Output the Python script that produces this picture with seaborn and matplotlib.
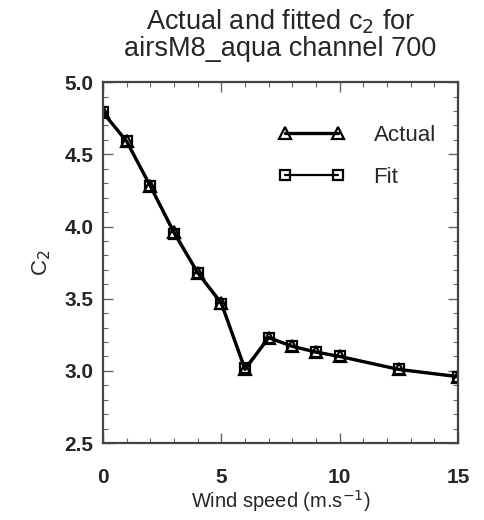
import matplotlib
matplotlib.use("Agg")
import matplotlib.pyplot as plt
import seaborn as sns
import pandas as pd
from matplotlib.ticker import MultipleLocator

wind_speed = [0, 1, 2, 3, 4, 5, 6, 7, 8, 9, 10, 12.5, 15]
actual_c2 = [4.79, 4.59, 4.28, 3.96, 3.68, 3.47, 3.01, 3.23, 3.17, 3.13, 3.10, 3.01, 2.96]
fit_c2 = [4.79, 4.59, 4.28, 3.95, 3.68, 3.46, 3.02, 3.23, 3.17, 3.13, 3.10, 3.01, 2.96]

sns.set_theme(style="ticks")
plt.rcParams['font.family'] = ['Liberation Sans', 'DejaVu Sans']

df = pd.DataFrame({"wind": wind_speed * 2,
                   "c2": actual_c2 + fit_c2,
                   "series": ["Actual"] * len(wind_speed) + ["Fit"] * len(wind_speed)})

fig = plt.figure(figsize=(4.84, 5.2), dpi=100)
ax = fig.add_axes([0.2128, 0.148, 0.7335, 0.694])

sns.lineplot(data=df[df.series == "Actual"], x="wind", y="c2", ax=ax, color="black",
             marker="^", markersize=8, markerfacecolor="none", markeredgecolor="black",
             markeredgewidth=1.6, linewidth=2.4, label="Actual", sort=False)
sns.lineplot(data=df[df.series == "Fit"], x="wind", y="c2", ax=ax, color="black",
             marker="s", markersize=7, markerfacecolor="none", markeredgecolor="black",
             markeredgewidth=1.6, linewidth=1.6, label="Fit", sort=False)

ax.set_xlim(0, 15)
ax.set_ylim(2.5, 5.0)
ax.xaxis.set_major_locator(MultipleLocator(5))
ax.xaxis.set_minor_locator(MultipleLocator(1))
ax.yaxis.set_major_locator(MultipleLocator(0.5))
ax.yaxis.set_minor_locator(MultipleLocator(0.1))
ax.yaxis.set_major_formatter(matplotlib.ticker.FormatStrFormatter('%.1f'))
ax.tick_params(which='both', direction='in', top=True, right=True, color='#666666')
ax.tick_params(which='major', length=7, width=1)
ax.tick_params(which='minor', length=3.5, width=0.8)
ax.tick_params(axis='x', which='major', pad=18, labelsize=15)
ax.tick_params(axis='y', which='major', pad=7, labelsize=15)
for lbl in ax.get_xticklabels() + ax.get_yticklabels():
    lbl.set_fontweight('bold')
for s in ax.spines.values():
    s.set_linewidth(1.6)
    s.set_color('#444444')

ax.set_xlabel("Wind speed (m.s$^{-1}$)", fontsize=14.5, labelpad=1)
ax.set_ylabel("C$_2$", fontsize=16, labelpad=8)
ax.set_title("Actual and fitted c$_2$ for\nairsM8_aqua channel 700", fontsize=19.5, pad=19, linespacing=1.0)

leg = ax.legend(loc="upper left", bbox_to_anchor=(278 / 484, 1 - 125 / 520),
                bbox_transform=fig.transFigure, frameon=False, numpoints=2,
                borderpad=0, borderaxespad=0,
                handlelength=3.0, fontsize=16, labelspacing=0.95, handletextpad=1.3)

fig.savefig("out.png", dpi=100)
